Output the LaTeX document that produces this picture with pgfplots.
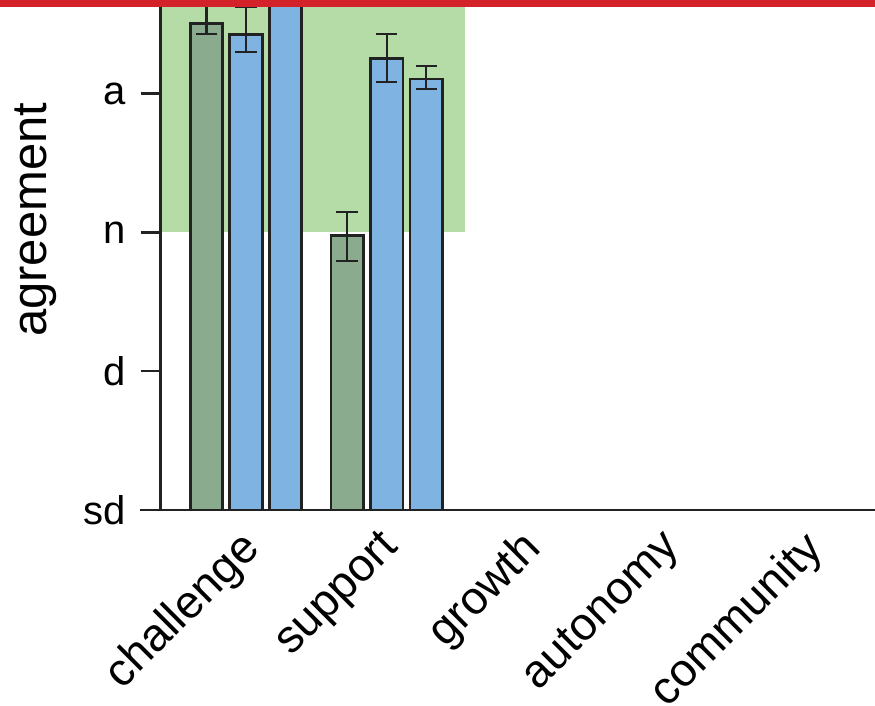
\documentclass[border=0pt]{standalone}
\usepackage{fontspec}
\setmainfont{Liberation Sans}
\usepackage{pgfplots}
\usepackage{pgfplotstable}
\pgfplotsset{compat=1.18}

\definecolor{bggreen}{HTML}{B5DBA6}
\definecolor{bargreen}{HTML}{8AAB8E}
\definecolor{barblue}{HTML}{7EB3E2}
\definecolor{topred}{HTML}{D4222B}
\definecolor{ink}{HTML}{222222}

\pgfplotstableread{
x y ep em
0 4.504 0.300 0.077
1 2.976 0.173 0.182
}\grp
\pgfplotstableread{
x y ep em
0 4.427 0.195 0.127
1 4.251 0.176 0.165
}\blueA
\pgfplotstableread{
x y ep em
0 4.900 0.150 0.150
1 4.105 0.092 0.070
}\blueB

\begin{document}
\begin{tikzpicture}
\useasboundingbox (-160.7pt,-196pt) rectangle (714.3pt,510pt);
\begin{axis}[
 at={(0,0)}, anchor=south west, scale only axis,
 width=714.3pt, height=510pt,
 xmin=-0.606, xmax=4.470, ymin=1, ymax=4.674,
 ybar=7pt, bar width=32.5pt,
 axis lines*=left,
 axis line style={ink, line width=2.5pt},
 ytick={1,2,3,4}, yticklabels={sd,d,n,a},
 xtick={0,1,2,3,4}, xticklabels={challenge,support,growth,autonomy,community},
 tick align=outside,
 major tick length=20pt,
 ytick style={ink, line width=2.5pt},
 xtick style={draw=none},
 yticklabel style={font=\fontsize{40}{48}\selectfont, text=black, inner sep=0pt, xshift=-15pt},
 xticklabel style={font=\fontsize{46}{54}\selectfont, text=black, xshift=-8pt, yshift=3pt, anchor=north east, rotate=45, inner sep=0pt},
 ylabel={agreement},
 ylabel style={font=\fontsize{49}{58}\selectfont, at={(rel axis cs:0,0.569)}, anchor=center, yshift=124.7pt},
 axis on top,
 error bars/error bar style={ink, line width=2.2pt},
 error bars/error mark options={ink, line width=2.2pt, mark size=10.7pt, rotate=90},
]
\fill[bggreen] (axis cs:-0.606,3) rectangle (axis cs:1.556,4.674);
\addplot[fill=bargreen, draw=ink, line width=2.8pt, error bars/.cd, y dir=both, y explicit]
  table[x=x, y=y, y error plus=ep, y error minus=em]{\grp};
\addplot[fill=barblue, draw=ink, line width=2.8pt, error bars/.cd, y dir=both, y explicit]
  table[x=x, y=y, y error plus=ep, y error minus=em]{\blueA};
\addplot[fill=barblue, draw=ink, line width=2.8pt, error bars/.cd, y dir=both, y explicit]
  table[x=x, y=y, y error plus=ep, y error minus=em]{\blueB};
\end{axis}
\fill[topred] (-160.7pt,503.3pt) rectangle (714.3pt,510pt);
\draw[ink, line width=2.5pt] (-20.7pt,0) -- (0,0);
\end{tikzpicture}
\end{document}
